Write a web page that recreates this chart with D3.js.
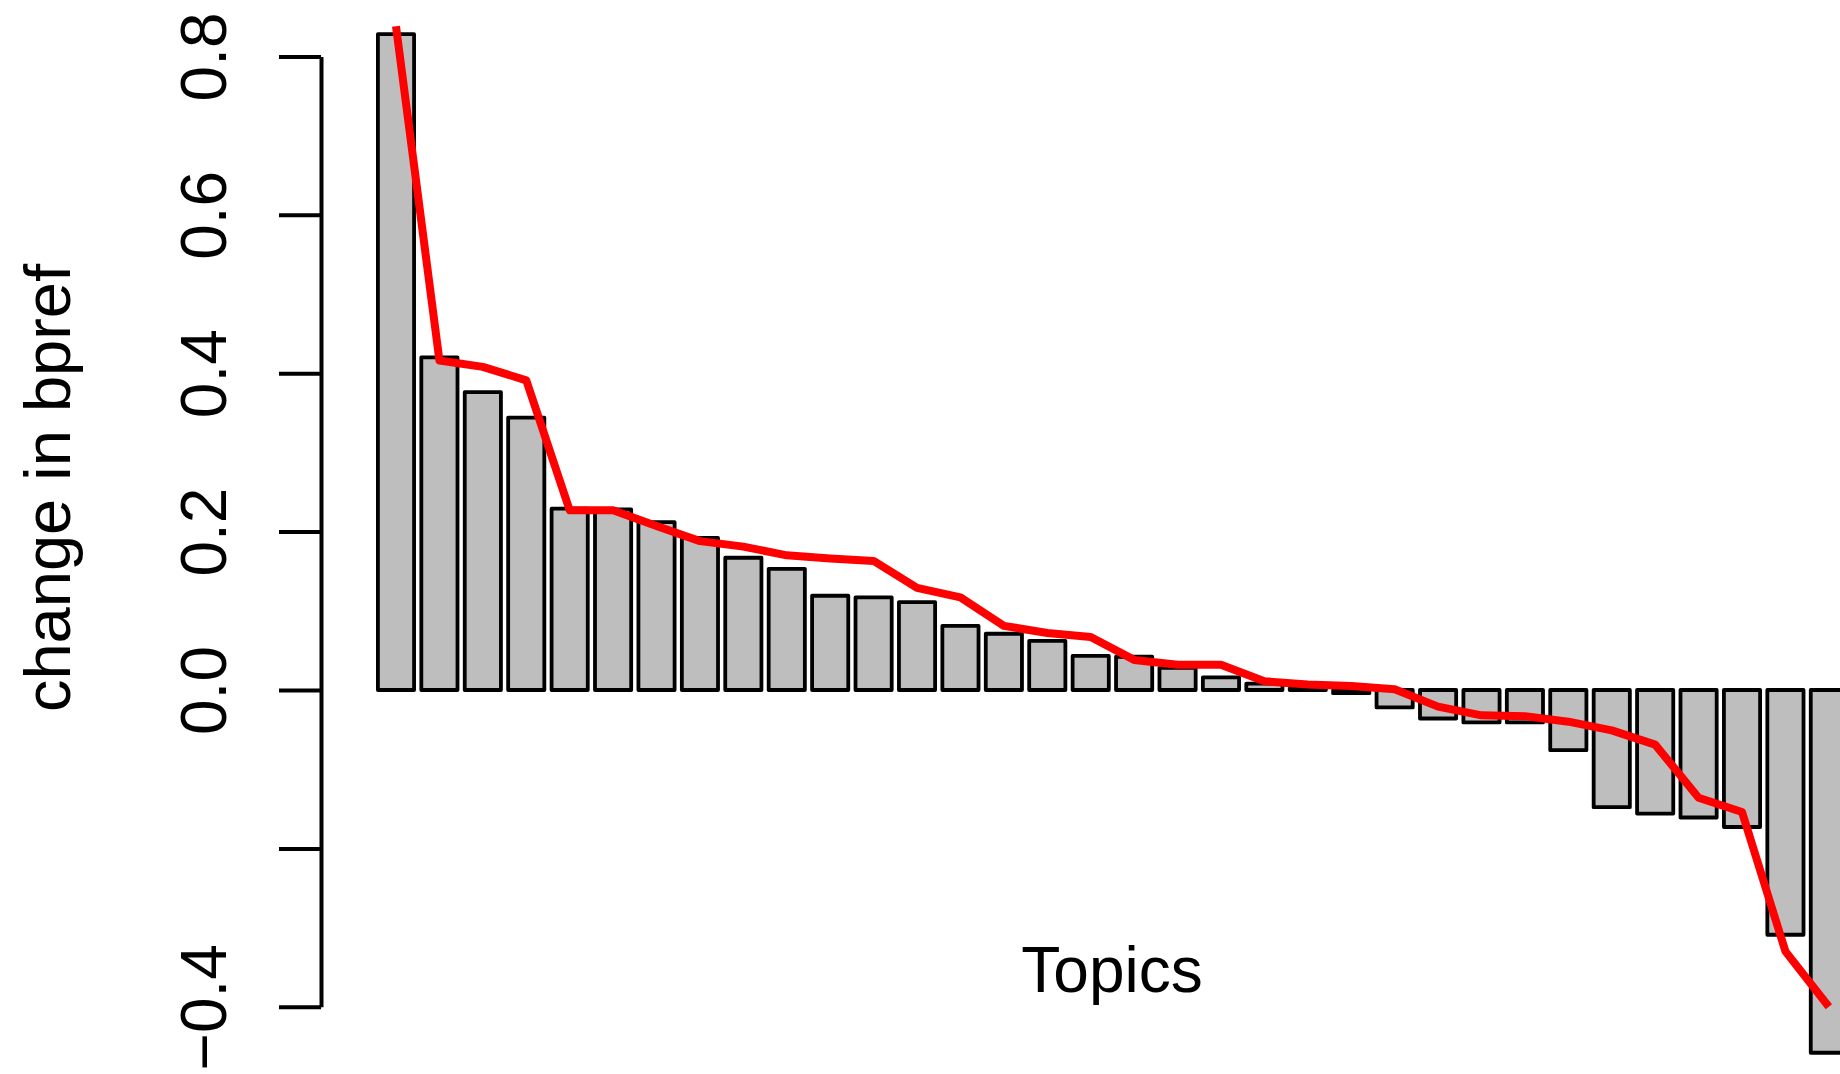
<!DOCTYPE html>
<html>
<head>
<meta charset="utf-8">
<script src="https://cdn.jsdelivr.net/npm/d3@7"></script>
<style>
  html, body { margin: 0; padding: 0; background: #ffffff; }
  svg { display: block; }
  text { font-family: "Liberation Sans", Arial, Helvetica, sans-serif; fill: #000; }
</style>
</head>
<body>
<svg id="chart" width="1840" height="1074"></svg>
<script>
// ---- data ----
const topics = d3.range(1, 35).map(i => "T" + i);
const barValues = [0.828, 0.420, 0.376, 0.344, 0.229, 0.228, 0.212, 0.192, 0.167, 0.153,
                   0.119, 0.117, 0.111, 0.081, 0.071, 0.062, 0.043, 0.042, 0.028, 0.016,
                   0.008, 0.002, -0.004, -0.022, -0.036, -0.041, -0.041, -0.076, -0.148, -0.156,
                   -0.161, -0.173, -0.309, -0.458];
const lineValues = [0.838, 0.416, 0.408, 0.391, 0.227, 0.227, 0.207, 0.188, 0.181, 0.170,
                    0.166, 0.163, 0.129, 0.117, 0.081, 0.072, 0.067, 0.038, 0.032, 0.032,
                    0.011, 0.007, 0.005, 0.001, -0.021, -0.032, -0.033, -0.040, -0.051, -0.069,
                    -0.136, -0.154, -0.330, -0.400];
const tickValues = [-0.4, -0.2, 0.0, 0.2, 0.4, 0.6, 0.8];
const tickLabels = ["\u22120.4", "", "0.0", "0.2", "0.4", "0.6", "0.8"];
const xLabel = "Topics";
const yLabel = "change in bpref";

// ---- layout ----
const svg = d3.select("#chart");
const n = barValues.length;
const space = 0.2, barW = 1.0;            // R barplot units
const unitPx = 43.42 / 1.2;
const x0 = 377.9 - space * unitPx;
const x = d3.scaleLinear().domain([0, n * (space + barW)]).range([x0, x0 + n * (space + barW) * unitPx]);
const y = d3.scaleLinear().domain([-0.4, 0.8]).range([1006.8, 56.4]);

// bars
svg.append("g").selectAll("rect")
  .data(barValues)
  .join("rect")
  .attr("x", (d, i) => x(space + i * (space + barW)))
  .attr("width", x(barW) - x(0))
  .attr("y", d => y(Math.max(0, d)))
  .attr("height", d => Math.abs(y(d) - y(0)))
  .attr("fill", "#bebebe")
  .attr("stroke", "#000")
  .attr("stroke-width", 3.8)
  .attr("stroke-linejoin", "round");

// red line
const line = d3.line()
  .x((d, i) => x(space + barW / 2 + i * (space + barW)))
  .y(d => y(d));
svg.append("path")
  .datum(lineValues)
  .attr("d", line)
  .attr("fill", "none")
  .attr("stroke", "#ff0000")
  .attr("stroke-width", 8)
  .attr("stroke-linejoin", "round")
  .attr("stroke-linecap", "butt");

// y axis
const yAxis = d3.axisLeft(y)
  .tickValues(tickValues)
  .tickSize(42)
  .tickSizeOuter(0)
  .tickFormat((d, i) => tickLabels[i]);
const ag = svg.append("g")
  .attr("transform", "translate(321,0)")
  .call(yAxis);
ag.select(".domain").attr("stroke", "#000").attr("stroke-width", 4);
ag.selectAll(".tick line").attr("stroke", "#000").attr("stroke-width", 4);
ag.selectAll(".tick text")
  .attr("x", null).attr("dy", null)
  .attr("transform", "translate(-95,0) rotate(-90)")
  .attr("text-anchor", "middle")
  .attr("font-size", 64)
  .attr("font-family", "Liberation Sans, Arial, sans-serif")
  .attr("fill", "#000");

// axis titles
svg.append("text")
  .attr("x", 1112).attr("y", 992)
  .attr("text-anchor", "middle")
  .attr("font-size", 64)
  .text(xLabel);
svg.append("text")
  .attr("transform", "translate(70,488) rotate(-90)")
  .attr("text-anchor", "middle")
  .attr("font-size", 65)
  .text(yLabel);
</script>
</body>
</html>
